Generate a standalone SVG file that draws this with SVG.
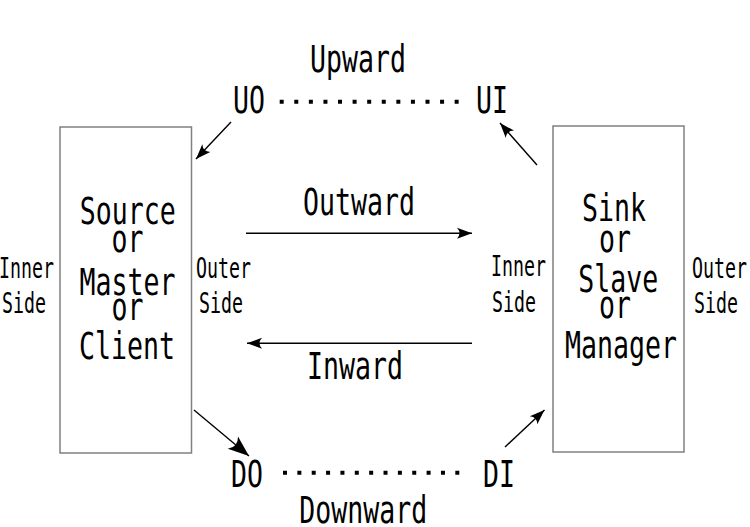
<svg xmlns="http://www.w3.org/2000/svg" width="750" height="527" viewBox="0 0 750 527">
<style>
.big{font-family:"DejaVu Sans Mono","Liberation Mono",monospace;font-size:37px;fill:#000}
.small{font-family:"DejaVu Sans Mono","Liberation Mono",monospace;font-size:28px;fill:#000}
.box{fill:#fff;stroke:#808080;stroke-width:1.5}
.conn{stroke:#000;stroke-width:1.4;fill:none}
.dots{stroke:#000;stroke-width:4;fill:none}
</style>
<defs>
<marker id="ah" viewBox="-18 -9 20 18" refX="0" refY="0" markerWidth="20" markerHeight="18" markerUnits="userSpaceOnUse" orient="auto">
<path d="M0,0 L-15,-5.5 Q-10,0 -15,5.5 Z" fill="#000"/>
</marker>
<marker id="ahL" viewBox="-24 -12 26 24" refX="0" refY="0" markerWidth="26" markerHeight="24" markerUnits="userSpaceOnUse" orient="auto">
<path d="M0,0 L-21,-8 Q-14,0 -21,8 Z" fill="#000"/>
</marker>
</defs>
<rect width="750" height="527" fill="#fff"/>
<g id="source">
<rect class="box" x="60" y="127" width="131.5" height="326"/>
<text class="big" x="79.7" y="224" textLength="96" lengthAdjust="spacingAndGlyphs">Source</text>
<text class="big" x="111.5" y="252" textLength="32" lengthAdjust="spacingAndGlyphs">or</text>
<text class="big" x="79.5" y="295" textLength="96" lengthAdjust="spacingAndGlyphs">Master</text>
<text class="big" x="111.5" y="320" textLength="32" lengthAdjust="spacingAndGlyphs">or</text>
<text class="big" x="79" y="359" textLength="96" lengthAdjust="spacingAndGlyphs">Client</text>
</g>
<g id="sink">
<rect class="box" x="553" y="126" width="131" height="326"/>
<text class="big" x="582" y="221" textLength="64" lengthAdjust="spacingAndGlyphs">Sink</text>
<text class="big" x="599" y="252" textLength="32" lengthAdjust="spacingAndGlyphs">or</text>
<text class="big" x="578.3" y="292" textLength="80" lengthAdjust="spacingAndGlyphs">Slave</text>
<text class="big" x="599" y="318" textLength="32" lengthAdjust="spacingAndGlyphs">or</text>
<text class="big" x="565" y="358" textLength="112" lengthAdjust="spacingAndGlyphs">Manager</text>
</g>
<g id="side-labels">
<text class="small" x="-1" y="278" textLength="55" lengthAdjust="spacingAndGlyphs">Inner</text>
<text class="small" x="2" y="313" textLength="44" lengthAdjust="spacingAndGlyphs">Side</text>
<text class="small" x="196" y="278" textLength="55" lengthAdjust="spacingAndGlyphs">Outer</text>
<text class="small" x="199" y="313" textLength="44" lengthAdjust="spacingAndGlyphs">Side</text>
<text class="small" x="491" y="276" textLength="55" lengthAdjust="spacingAndGlyphs">Inner</text>
<text class="small" x="492" y="312" textLength="44" lengthAdjust="spacingAndGlyphs">Side</text>
<text class="small" x="692" y="278" textLength="55" lengthAdjust="spacingAndGlyphs">Outer</text>
<text class="small" x="694" y="313" textLength="44" lengthAdjust="spacingAndGlyphs">Side</text>
</g>
<g id="ports">
<text class="big" x="233" y="113" textLength="32" lengthAdjust="spacingAndGlyphs">UO</text>
<text class="big" x="476" y="113" textLength="32" lengthAdjust="spacingAndGlyphs">UI</text>
<text class="big" x="231" y="487" textLength="32" lengthAdjust="spacingAndGlyphs">DO</text>
<text class="big" x="483" y="487" textLength="32" lengthAdjust="spacingAndGlyphs">DI</text>
</g>
<g id="labels">
<text class="big" x="310" y="72" textLength="96" lengthAdjust="spacingAndGlyphs">Upward</text>
<text class="big" x="303" y="215" textLength="112" lengthAdjust="spacingAndGlyphs">Outward</text>
<text class="big" x="307" y="379" textLength="96" lengthAdjust="spacingAndGlyphs">Inward</text>
<text class="big" x="299.3" y="523" textLength="128" lengthAdjust="spacingAndGlyphs">Downward</text>
</g>
<g id="connectors">
<line class="dots" x1="279.7" y1="101.7" x2="460" y2="101.7" stroke-dasharray="4 10.58"/>
<line class="dots" x1="283" y1="472.7" x2="460" y2="472.7" stroke-dasharray="4 10.36"/>
<line class="conn" x1="246" y1="233.3" x2="472" y2="233.3" marker-end="url(#ah)"/>
<line class="conn" x1="472" y1="343.3" x2="247" y2="343.3" marker-end="url(#ah)"/>
<line class="conn" x1="231" y1="122" x2="196" y2="159" marker-end="url(#ah)"/>
<line class="conn" x1="537" y1="165" x2="500" y2="123" marker-end="url(#ah)"/>
<line class="conn" x1="194" y1="410" x2="249" y2="456" marker-end="url(#ahL)"/>
<line class="conn" x1="505" y1="447" x2="544.5" y2="410" marker-end="url(#ah)"/>
</g>
</svg>
